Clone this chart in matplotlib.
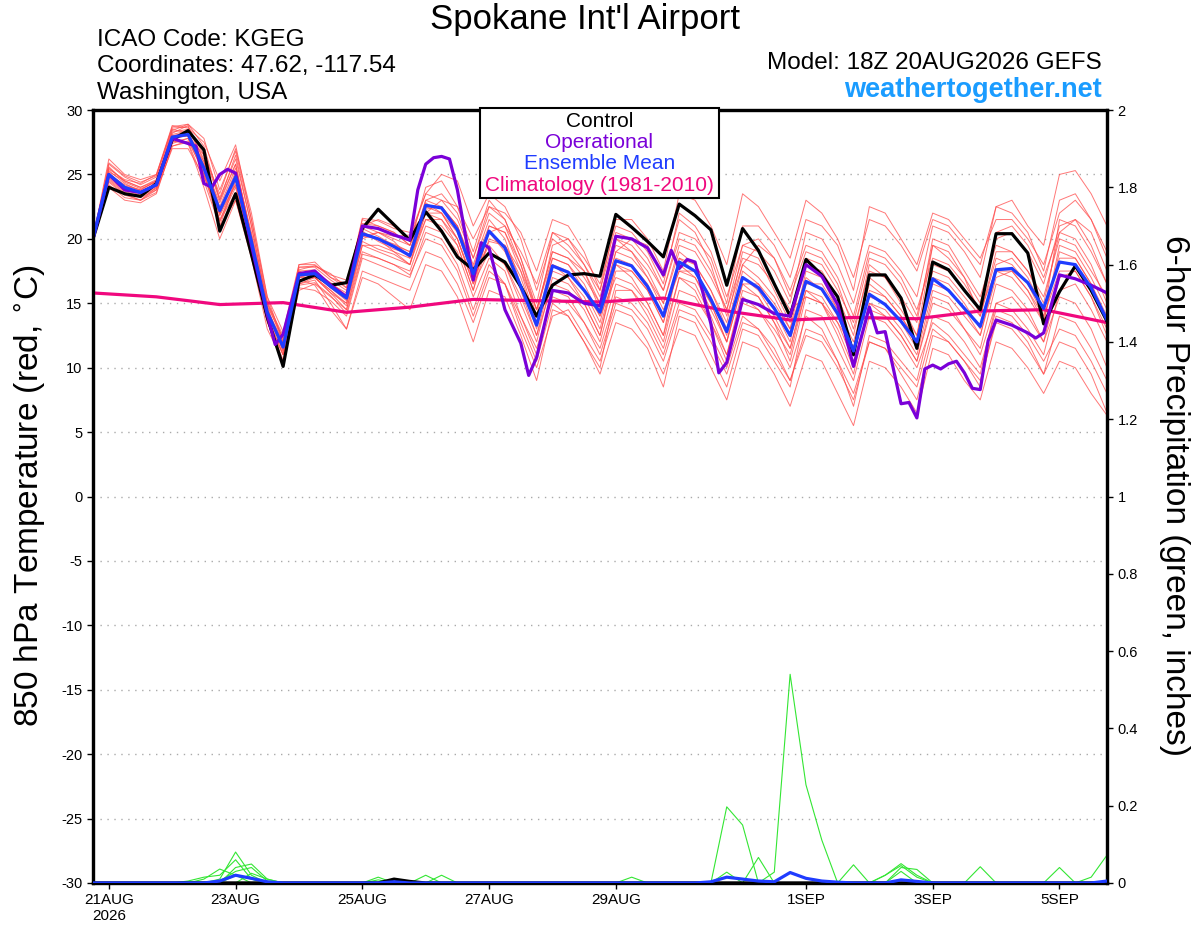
import numpy as np
import pandas as pd
import matplotlib
matplotlib.use("Agg")
import matplotlib.pyplot as plt
from matplotlib.patches import Rectangle

plt.rcParams['font.family'] = ['Liberation Sans', 'DejaVu Sans']
plt.rcParams['axes.unicode_minus'] = False

# 6-hourly GEFS times from 18Z 20AUG2026
times = pd.date_range('2026-08-20 18:00', periods=65, freq='6h')

# ensemble mean and control 850 hPa temperature (C)
ens_mean = [20.0, 25.0, 24.0, 23.6, 24.2, 27.9, 28.1, 25.5, 22.2, 24.8, 19.8, 14.3, 11.6, 17.2, 17.3, 16.3, 15.4,
            20.4, 20.0, 19.4, 18.7, 22.6, 22.4, 20.7, 17.3, 20.6, 19.3, 16.3, 13.3, 17.9, 17.4, 16.0, 14.3,
            18.3, 17.9, 16.3, 14.0, 18.2, 17.5, 15.3, 12.8, 17.0, 16.2, 14.6, 12.5, 16.7, 16.1, 14.2, 11.3,
            15.7, 14.9, 13.6, 12.0, 16.9, 16.0, 14.6, 13.2, 17.6, 17.7, 16.6, 14.6, 18.2, 18.0, 16.2, 13.7]
control = [20.0, 24.0, 23.5, 23.3, 24.3, 27.7, 28.4, 26.9, 20.6, 23.5, 18.8, 13.9, 10.1, 16.7, 17.2, 16.4, 16.6,
           20.8, 22.3, 21.1, 19.9, 22.1, 20.6, 18.6, 17.6, 18.9, 18.2, 16.3, 14.0, 16.4, 17.2, 17.3, 17.1,
           21.9, 20.9, 19.8, 18.6, 22.7, 21.8, 20.7, 16.4, 20.8, 19.1, 16.5, 14.0, 18.4, 17.2, 15.5, 11.0,
           17.2, 17.2, 15.4, 11.5, 18.2, 17.6, 16.0, 14.5, 20.4, 20.4, 18.9, 13.4, 15.9, 17.9, 16.0, 13.6]

# operational GFS (3-hourly in places), hours after 18Z 20AUG
op_hours = [0, 6, 12, 18, 24, 30, 36, 39, 42, 45, 48, 51, 54, 60, 66, 69, 72, 78, 84, 90, 96,
            102, 108, 114, 120, 123, 126, 129, 132, 135, 138, 144, 147, 150, 156, 162, 165, 168,
            174, 180, 186, 192, 198, 204, 210, 216, 219, 222, 225, 228, 234, 237, 240, 246, 252,
            258, 264, 270, 276, 282, 288, 294, 297, 300, 306, 309, 312, 315, 318, 321, 324, 327,
            330, 333, 336, 339, 342, 348, 354, 357, 360, 366, 372, 378, 384]
op_temp = [20.0, 25.0, 23.8, 23.6, 24.2, 27.8, 27.4, 27.2, 24.3, 24.0, 25.0, 25.4, 25.1, 19.5, 14.1, 11.8, 12.6,
           17.3, 17.5, 16.4, 15.5, 21.0, 20.8, 20.3, 19.9, 23.8, 25.8, 26.3, 26.4, 26.2, 23.8, 16.8, 19.7,
           19.3, 14.5, 11.9, 9.4, 10.8, 16.0, 15.8, 15.0, 14.8, 20.2, 20.0, 19.3, 17.2, 19.1, 17.7, 18.4,
           18.2, 13.4, 9.6, 10.4, 15.3, 14.9, 14.2, 14.0, 18.0, 17.1, 14.9, 10.1, 14.7, 12.7, 12.8, 7.2,
           7.3, 6.1, 9.9, 10.2, 9.9, 10.3, 10.5, 9.6, 8.4, 8.3, 12.1, 13.7, 13.3, 12.7, 12.3, 12.7, 17.2,
           16.9, 16.4, 15.8]

# climatology 1981-2010, daily
clim_hours = [0, 24, 48, 72, 96, 120, 144, 168, 192, 216, 240, 264, 288, 312, 336, 360, 384]
clim_temp = [15.8, 15.5, 14.9, 15.05, 14.3, 14.7, 15.3, 15.2, 15.1, 15.4, 14.4, 13.7, 13.9, 13.8, 14.4, 14.5, 13.5]

# ensemble members
members = [
    [20.0, 26.2, 25.0, 24.6, 25.0, 28.6, 28.7, 26.5, 23.0, 26.5, 21.0, 15.0, 12.0, 18.0, 18.2, 17.0, 16.2,
     21.5, 21.0, 20.5, 19.5, 24.0, 24.5, 22.5, 19.0, 23.0, 21.5, 18.5, 15.0, 20.5, 20.0, 18.5, 16.5,
     21.0, 20.5, 19.0, 16.5, 22.0, 21.0, 19.0, 15.5, 19.5, 19.0, 17.5, 15.0, 20.5, 20.0, 18.0, 15.0,
     19.5, 19.0, 17.5, 15.5, 21.0, 20.5, 19.0, 17.0, 22.5, 22.0, 20.5, 17.5, 23.0, 23.5, 21.5, 18.5],
    [20.0, 24.0, 23.0, 22.8, 23.5, 27.2, 27.5, 24.5, 21.0, 23.0, 18.5, 13.0, 10.5, 16.0, 16.5, 15.5, 14.5,
     19.0, 18.5, 18.0, 17.5, 21.0, 20.5, 19.0, 15.5, 18.5, 17.5, 14.0, 11.5, 15.5, 15.0, 13.5, 11.5,
     15.5, 15.0, 13.5, 11.0, 15.0, 14.5, 12.5, 10.0, 14.0, 13.0, 11.5, 9.0, 13.0, 12.5, 10.5, 8.0,
     12.0, 11.5, 10.0, 8.5, 13.0, 12.0, 10.5, 9.0, 13.5, 13.0, 11.5, 9.5, 14.0, 13.5, 11.5, 9.0],
    [20.0, 25.5, 24.5, 24.0, 24.5, 28.2, 28.8, 26.0, 22.5, 25.5, 20.5, 15.0, 12.5, 17.5, 17.0, 15.8, 15.0,
     20.0, 20.5, 19.8, 18.5, 22.0, 21.5, 19.5, 16.0, 21.0, 20.5, 18.0, 14.5, 19.0, 18.5, 17.5, 15.0,
     19.5, 19.0, 17.0, 14.5, 17.5, 17.0, 14.5, 12.0, 16.5, 16.5, 15.0, 13.0, 18.5, 18.0, 16.0, 13.5,
     18.5, 18.0, 16.5, 14.0, 19.5, 18.5, 17.0, 15.0, 20.0, 20.5, 19.0, 16.5, 21.0, 21.5, 19.5, 16.5],
    [20.0, 25.0, 24.2, 23.8, 24.5, 28.0, 28.0, 26.5, 23.5, 27.0, 22.0, 15.5, 12.0, 17.0, 17.5, 16.5, 15.5,
     21.0, 21.5, 21.0, 20.0, 23.5, 23.0, 21.5, 18.5, 22.0, 21.0, 18.0, 14.0, 19.5, 20.0, 18.0, 16.0,
     21.5, 21.5, 20.0, 17.5, 23.5, 23.0, 21.0, 18.0, 23.5, 22.5, 20.5, 18.5, 23.0, 22.0, 20.0, 17.0,
     21.5, 21.0, 19.5, 17.5, 21.5, 21.0, 19.5, 18.0, 22.5, 23.0, 21.0, 19.5, 25.0, 25.3, 23.5, 21.0],
    [20.0, 24.5, 23.5, 23.0, 24.0, 27.5, 27.8, 25.0, 21.5, 24.0, 19.0, 13.5, 11.0, 16.5, 16.8, 15.0, 13.0,
     17.5, 17.0, 16.5, 16.0, 19.0, 18.5, 16.5, 13.5, 17.0, 16.5, 13.0, 10.0, 14.0, 14.5, 12.5, 10.5,
     14.5, 14.0, 12.0, 9.5, 13.0, 12.5, 10.0, 7.5, 12.0, 11.5, 9.5, 7.0, 11.0, 10.5, 8.0, 5.5,
     10.5, 10.0, 8.5, 6.5, 11.5, 11.0, 9.0, 7.5, 12.0, 11.5, 10.0, 8.0, 10.5, 10.0, 8.0, 6.3],
    [20.0, 25.8, 24.8, 24.2, 24.8, 28.5, 28.2, 25.0, 21.0, 24.5, 19.5, 14.0, 11.0, 17.8, 17.8, 16.8, 16.0,
     20.5, 20.0, 19.0, 18.0, 22.5, 22.0, 20.5, 17.0, 19.5, 18.0, 15.0, 12.0, 17.0, 16.5, 15.0, 12.5,
     17.5, 17.5, 16.0, 13.5, 18.5, 18.0, 16.0, 13.0, 18.0, 17.0, 15.5, 13.0, 17.0, 16.0, 14.0, 11.0,
     16.0, 15.5, 14.0, 12.0, 17.5, 17.0, 15.5, 14.0, 19.0, 19.0, 17.5, 15.0, 20.5, 20.0, 18.0, 15.0],
    [20.0, 24.8, 23.8, 23.4, 24.0, 27.6, 27.4, 24.0, 20.0, 23.0, 19.0, 14.5, 12.0, 17.0, 17.0, 16.0, 15.0,
     19.5, 19.5, 19.0, 18.5, 21.5, 21.0, 19.5, 16.0, 20.0, 19.5, 17.0, 13.5, 18.5, 18.0, 16.5, 14.0,
     17.0, 16.5, 15.0, 12.5, 17.0, 16.0, 13.5, 10.5, 15.0, 14.5, 13.0, 11.0, 16.0, 15.5, 13.5, 10.5,
     14.5, 14.0, 12.5, 10.5, 15.0, 14.5, 13.0, 11.5, 16.5, 16.0, 14.5, 12.0, 15.5, 15.0, 13.0, 10.0],
    [20.0, 25.2, 24.5, 24.0, 24.6, 28.0, 28.3, 25.8, 22.8, 25.8, 20.0, 14.5, 11.5, 17.5, 17.6, 16.2, 15.2,
     20.8, 20.2, 19.5, 19.0, 23.0, 22.5, 21.0, 18.0, 21.5, 20.0, 16.5, 13.0, 18.0, 17.5, 16.0, 14.0,
     19.0, 18.5, 17.0, 15.0, 19.5, 19.0, 17.0, 14.5, 18.5, 18.0, 16.5, 14.5, 15.5, 15.0, 13.5, 11.5,
     17.0, 16.0, 14.5, 12.5, 18.0, 17.5, 16.0, 14.5, 17.5, 17.0, 15.5, 13.5, 19.5, 19.0, 17.0, 14.5],
    [20.0, 24.2, 23.2, 23.0, 23.8, 27.0, 27.0, 24.8, 22.0, 24.2, 19.2, 14.2, 11.8, 16.2, 16.0, 15.2, 14.0,
     18.5, 18.0, 17.5, 17.0, 20.5, 20.0, 18.0, 14.5, 18.0, 16.5, 13.5, 10.5, 15.0, 14.0, 12.0, 9.5,
     13.5, 13.0, 11.5, 8.5, 14.0, 13.5, 11.0, 8.5, 13.0, 12.5, 10.5, 8.5, 14.5, 14.0, 11.5, 9.0,
     14.0, 13.5, 12.0, 10.0, 13.5, 12.5, 11.0, 9.5, 15.0, 14.5, 13.0, 11.0, 16.0, 16.5, 14.5, 12.0],
    [20.0, 25.4, 24.6, 24.3, 25.0, 28.8, 28.6, 27.5, 24.5, 27.3, 21.5, 15.5, 12.8, 18.0, 18.0, 17.0, 16.5,
     21.2, 21.0, 20.5, 19.5, 22.5, 22.5, 21.0, 17.5, 20.5, 21.0, 19.0, 16.5, 20.5, 19.5, 18.0, 15.5,
     20.0, 19.5, 18.0, 16.0, 20.5, 20.0, 18.5, 15.0, 21.0, 21.0, 19.5, 17.0, 21.5, 21.0, 19.5, 16.0,
     22.5, 22.0, 20.0, 18.0, 22.0, 21.5, 20.0, 18.5, 21.5, 21.5, 20.0, 18.0, 22.0, 23.0, 21.5, 19.0],
    [20.0, 24.6, 23.6, 23.2, 23.8, 27.4, 27.8, 25.5, 21.8, 24.2, 19.5, 14.8, 12.3, 16.8, 17.0, 16.0, 14.8,
     19.8, 19.2, 18.8, 18.0, 22.0, 22.0, 20.0, 16.5, 20.5, 19.0, 16.0, 12.5, 17.5, 17.0, 15.5, 13.0,
     18.0, 17.5, 16.0, 13.5, 18.0, 17.0, 15.0, 12.0, 17.5, 16.5, 14.5, 12.0, 17.5, 17.0, 14.5, 12.0,
     16.5, 15.5, 14.0, 12.0, 17.0, 16.5, 15.0, 13.0, 18.0, 18.5, 17.0, 14.5, 18.5, 18.5, 16.5, 13.5],
    [20.0, 25.0, 24.0, 23.5, 24.2, 27.8, 28.0, 26.0, 22.0, 25.0, 20.0, 14.0, 11.0, 16.5, 17.0, 15.8, 14.5,
     19.5, 19.0, 18.5, 18.0, 21.5, 21.5, 20.0, 16.5, 19.0, 18.0, 15.5, 12.5, 16.5, 16.0, 14.5, 12.0,
     16.5, 16.0, 14.0, 11.5, 16.0, 15.5, 13.5, 11.0, 15.5, 14.5, 12.5, 10.0, 14.0, 13.0, 10.5, 7.0,
     12.5, 12.0, 10.5, 9.0, 14.0, 13.5, 12.0, 10.0, 14.5, 14.0, 12.5, 10.5, 13.0, 12.5, 10.5, 8.0],
    [20.0, 25.6, 24.4, 23.9, 24.4, 28.3, 28.5, 26.2, 22.3, 25.2, 20.3, 14.6, 11.4, 17.4, 17.4, 16.6, 15.6,
     20.2, 20.0, 19.6, 19.0, 23.0, 23.5, 22.0, 18.5, 22.5, 21.5, 18.5, 14.5, 19.0, 18.5, 17.0, 15.0,
     20.0, 19.0, 17.5, 15.0, 19.0, 18.0, 16.0, 13.5, 19.0, 18.5, 16.0, 13.5, 18.0, 17.5, 15.5, 12.5,
     18.0, 17.0, 15.5, 13.5, 20.0, 19.5, 17.5, 15.5, 19.5, 19.0, 17.5, 15.5, 20.0, 19.5, 17.5, 15.5],
    [20.0, 24.4, 23.4, 23.0, 23.6, 27.2, 27.6, 25.2, 21.4, 23.6, 18.6, 13.6, 10.6, 16.4, 16.6, 15.6, 14.2,
     18.8, 18.5, 18.0, 17.2, 20.0, 19.5, 17.5, 14.0, 17.5, 16.5, 14.0, 11.0, 16.0, 15.5, 13.5, 11.0,
     15.0, 14.5, 13.0, 10.5, 14.5, 14.0, 12.0, 9.5, 13.5, 13.0, 11.0, 9.0, 12.5, 12.0, 10.0, 7.5,
     12.0, 11.5, 9.5, 7.5, 12.5, 12.0, 10.5, 8.5, 14.0, 13.5, 12.0, 9.5, 12.0, 11.5, 9.5, 6.5],
    [20.0, 25.3, 24.3, 23.7, 24.3, 28.1, 28.4, 26.8, 23.2, 26.2, 21.0, 14.8, 11.2, 17.0, 17.3, 16.5, 15.8,
     20.6, 19.8, 19.2, 18.8, 22.8, 22.0, 20.0, 16.8, 19.8, 19.5, 17.5, 14.5, 18.5, 18.0, 16.0, 13.5,
     18.5, 18.0, 16.5, 14.0, 17.5, 17.5, 15.5, 12.5, 17.0, 16.0, 14.0, 11.5, 16.5, 16.5, 14.5, 11.5,
     15.5, 15.0, 13.5, 11.5, 16.5, 16.0, 14.5, 12.5, 17.0, 17.5, 16.0, 14.0, 17.5, 17.5, 15.5, 12.5],
    [20.0, 24.9, 23.9, 23.6, 24.1, 27.9, 28.0, 25.3, 21.3, 24.6, 19.4, 14.2, 11.3, 17.2, 17.2, 16.2, 15.4,
     20.2, 20.5, 20.0, 19.5, 22.3, 22.5, 21.0, 17.8, 21.0, 20.5, 17.5, 13.5, 18.0, 17.0, 15.0, 12.5,
     18.0, 17.0, 15.0, 12.5, 18.5, 17.5, 15.0, 12.0, 16.5, 15.5, 13.5, 11.5, 16.0, 15.0, 13.0, 10.0,
     15.0, 14.5, 13.0, 11.0, 16.0, 15.5, 14.0, 12.5, 17.5, 17.5, 16.0, 13.5, 19.0, 18.5, 16.5, 14.0],
    [20.0, 25.1, 24.1, 23.8, 24.5, 28.4, 28.9, 27.8, 23.8, 26.8, 21.5, 15.2, 12.2, 17.8, 17.9, 17.2, 16.8,
     21.0, 20.5, 20.2, 20.3, 23.5, 25.0, 24.5, 21.0, 23.5, 22.5, 20.0, 16.0, 20.0, 19.0, 17.5, 14.5,
     19.0, 20.0, 19.5, 17.0, 21.5, 20.5, 18.0, 14.0, 18.0, 19.5, 18.5, 15.5, 19.0, 18.5, 16.5, 13.0,
     17.5, 17.0, 15.0, 12.5, 19.5, 19.0, 17.0, 14.0, 18.5, 18.0, 16.5, 14.0, 21.5, 21.0, 19.0, 16.5],
    [20.0, 24.7, 23.7, 23.3, 23.9, 27.7, 28.1, 25.7, 21.9, 24.9, 19.9, 14.4, 11.5, 16.9, 16.4, 14.5, 13.0,
     17.0, 16.5, 15.5, 14.5, 18.0, 17.5, 15.5, 12.0, 16.0, 15.5, 12.5, 9.0, 14.5, 14.0, 12.0, 10.0,
     16.0, 16.0, 14.5, 12.0, 17.0, 16.5, 14.0, 11.0, 16.0, 15.5, 13.5, 10.5, 15.5, 15.0, 12.5, 9.5,
     15.0, 14.0, 12.5, 10.5, 15.5, 15.0, 13.0, 11.0, 15.0, 15.5, 14.0, 12.0, 17.0, 17.5, 15.5, 13.0],
    [20.0, 25.9, 24.9, 24.4, 24.9, 28.7, 28.9, 27.2, 23.0, 25.8, 20.2, 14.4, 11.9, 17.6, 17.9, 17.3, 16.2,
     21.6, 21.4, 20.8, 20.5, 22.0, 23.0, 22.5, 20.0, 22.5, 22.0, 20.5, 17.5, 21.5, 21.0, 19.0, 16.0,
     20.5, 20.0, 18.5, 16.0, 20.0, 19.5, 17.5, 14.5, 19.5, 20.0, 18.5, 16.0, 19.5, 19.0, 17.0, 14.0,
     19.0, 18.5, 17.0, 14.5, 18.5, 18.0, 16.5, 14.5, 20.5, 21.0, 19.5, 17.0, 20.5, 21.5, 20.5, 17.5],
]

# 6-hour precipitation (inches)
precip_members = [
    [0]*8 + [0.01, 0.08, 0.02] + [0]*29 + [0.197, 0.15] + [0]*23,
    [0]*9 + [0.04, 0.049, 0.01] + [0]*31 + [0.028, 0.54, 0.254, 0.111] + [0]*18,
    [0]*7 + [0.01, 0.036, 0.02] + [0]*8 + [0.015] + [0]*23 + [0.066] + [0]*5 + [0.047] + [0]*16,
    [0]*8 + [0.005, 0.03, 0.04, 0.005] + [0]*9 + [0.02] + [0]*18 + [0.028] + [0]*10 + [0.04, 0.035] + [0]*3 + [0.042] + [0]*8,
    [0]*6 + [0.005, 0.015, 0.02, 0.06, 0.01] + [0]*11 + [0.02] + [0]*28 + [0.03] + [0]*9 + [0.04, 0.0, 0.015, 0.072],
    [0]*9 + [0.02, 0.01] + [0]*7 + [0.008] + [0]*15 + [0.015] + [0]*15 + [0.02, 0.045, 0.015] + [0]*12,
    [0]*10 + [0.025, 0.01] + [0]*38 + [0.02, 0.05, 0.02] + [0]*12,
]
precip_mean = ([0]*8 + [0.005, 0.02, 0.012, 0.003] + [0]*7 + [0.003] + [0]*19
               + [0.003, 0.015, 0.01, 0.005, 0.003, 0.027, 0.012, 0.005, 0.002] + [0]*3
               + [0.008, 0.004] + [0]*11 + [0.005])
precip_control = [0]*19 + [0.01, 0.004] + [0]*44

tick_dates = ['2026-08-21', '2026-08-23', '2026-08-25', '2026-08-27', '2026-08-29',
              '2026-09-01', '2026-09-03', '2026-09-05']
tick_labels = ['21AUG\n2026', '23AUG', '25AUG', '27AUG', '29AUG', '1SEP', '3SEP', '5SEP']

start = times[0]
op_times = [start + pd.Timedelta(hours=h) for h in op_hours]
clim_times = [start + pd.Timedelta(hours=h) for h in clim_hours]

fig = plt.figure(figsize=(12, 9.27), dpi=100)
ax = fig.add_axes([0.0775, 0.0475, 0.845, 0.8338])
ax2 = ax.twinx()

for m in members:
    ax.plot(times, m, color='#ff4a4a', lw=0.7, alpha=0.75, zorder=2)
ax.plot(clim_times, clim_temp, color='#f0087e', lw=2.3, zorder=3)
ax.plot(times, control, color='black', lw=2.3, zorder=4)
ax.plot(op_times, op_temp, color='#7a00d8', lw=2.3, zorder=5)
ax.plot(times, ens_mean, color='#1f3cff', lw=2.3, zorder=6)

for p in precip_members:
    ax2.plot(times, p, color='#33e633', lw=0.8, zorder=2)
ax2.plot(times, precip_control, color='black', lw=2.3, zorder=3)
ax2.plot(times, precip_mean, color='#1f3cff', lw=2.3, zorder=4)

ax.set_xlim(times[0], times[-1])
ax.set_ylim(-30, 30)
ax.set_yticks(np.arange(-30, 31, 5))
ax2.set_ylim(0, 2)
ax2.set_yticks(np.arange(0, 2.01, 0.2))
ax2.set_yticklabels(['%g' % round(v, 1) for v in np.arange(0, 2.01, 0.2)])
ax.set_xticks(pd.to_datetime(tick_dates))
ax.set_xticklabels(tick_labels)

ax.yaxis.grid(True, color='#aaaaaa', linestyle=(0, (1, 4)), lw=1)
for a in (ax, ax2):
    for s in a.spines.values():
        s.set_linewidth(2.3)
    a.tick_params(direction='out', length=4, width=1, labelsize=10.5)
ax.tick_params(axis='x', labelsize=11, pad=3)

fig.text(0.025, 0.466, '850 hPa Temperature (red, $^{\\circ}$C)', rotation=90,
         ha='center', va='center', fontsize=24)
fig.text(0.979, 0.466, '6-hour Precipitation (green, inches)', rotation=270,
         ha='center', va='center', fontsize=24)

fig.text(0.4875, 0.979, "Spokane Int'l Airport", ha='center', va='center', fontsize=25)
fig.text(0.081, 0.957, 'ICAO Code: KGEG', ha='left', va='center', fontsize=17.5)
fig.text(0.081, 0.929, 'Coordinates: 47.62, -117.54', ha='left', va='center', fontsize=17.5)
fig.text(0.081, 0.900, 'Washington, USA', ha='left', va='center', fontsize=17.5)
fig.text(0.918, 0.932, 'Model: 18Z 20AUG2026 GEFS', ha='right', va='center', fontsize=17.5)
fig.text(0.918, 0.903, 'weathertogether.net', ha='right', va='center', fontsize=19.5,
         fontweight='bold', color='#1a9cff')

# legend box
ax2.add_patch(Rectangle((0.3817, 0.886), 0.2353, 0.117, transform=ax2.transAxes,
                        facecolor='white', edgecolor='black', lw=1.5, zorder=10, clip_on=False))
leg_items = [('Control', 'black'), ('Operational', '#7a00d8'),
             ('Ensemble Mean', '#1f3cff'), ('Climatology (1981-2010)', '#f0087e')]
for k, (txt, col) in enumerate(leg_items):
    ax2.text(0.4995, 0.9858 - k * 0.0276, txt, color=col, fontsize=15, ha='center', va='center',
             transform=ax2.transAxes, zorder=11)

fig.savefig('out.png', dpi=100)
